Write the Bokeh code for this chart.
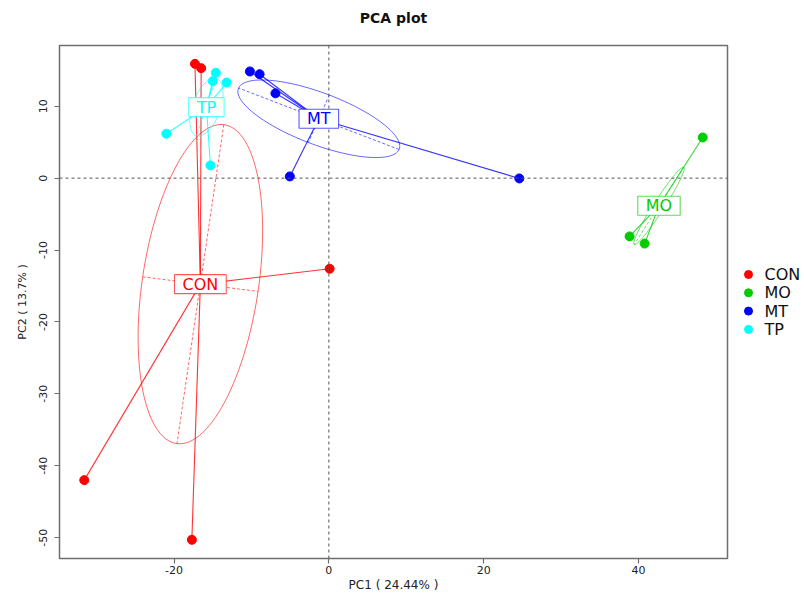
import numpy as np
from bokeh.plotting import figure
from bokeh.layouts import row
from bokeh.models import Range1d, FixedTicker, Span, Label, Title
from bokeh.core.properties import value
from bokeh.embed import file_html
from bokeh.resources import INLINE

# ---------------- data ----------------
groups = ["CON", "MO", "MT", "TP"]
colors = ["#FF0000", "#00CD00", "#0000FF", "#00FFFF"]

con_x = [-17.3, -16.5, 0.1, -31.6, -17.7]
con_y = [15.9, 15.3, -12.6, -42.0, -50.3]
mo_x = [48.3, 38.85, 40.8]
mo_y = [5.66, -8.1, -9.1]
mt_x = [-10.2, -8.95, -6.9, -5.04, 24.6]
mt_y = [14.84, 14.46, 11.8, 0.24, -0.04]
tp_x = [-21.0, -14.6, -15.0, -13.2, -15.3]
tp_y = [6.18, 14.66, 13.5, 13.3, 1.77]

x_ticks = [-20, 0, 20, 40]
y_ticks = [10, 0, -10, -20, -30, -40, -50]
x_label = "PC1 ( 24.44% )"
y_label = "PC2 ( 13.7% )"
title = "PCA plot"

group_x = [con_x, mo_x, mt_x, tp_x]
group_y = [con_y, mo_y, mt_y, tp_y]

ELL_COEFF = 0.8
FONT = "DejaVu Sans"
W_MAIN, W_LEG, H = 729, 75, 594
B_TOP, B_BOTTOM = 45, 36


def ellipse(px, py, coeff):
    px = np.asarray(px, float)
    py = np.asarray(py, float)
    mx, my = px.mean(), py.mean()
    vx = ((px - mx) ** 2).mean()
    vy = ((py - my) ** 2).mean()
    cxy = ((px - mx) * (py - my)).mean()
    delta = np.sqrt((vx - vy) ** 2 + 4 * cxy * cxy)
    l1 = max((vx + vy + delta) / 2, 0)
    l2 = max(vx + vy - l1, 0)
    l1, l2 = np.sqrt(l1), np.sqrt(l2)
    if abs(cxy) < 1e-10:
        a0, b0 = (1.0, 0.0) if vx > vy else (0.0, 1.0)
    else:
        a0 = 1.0
        b0 = (l1 * l1 - vx) / cxy
        n = np.hypot(a0, b0)
        a0, b0 = a0 / n, b0 / n
    c11 = coeff * a0 * l1
    c12 = -coeff * b0 * l2
    c21 = coeff * b0 * l1
    c22 = coeff * a0 * l2
    t = np.linspace(0, 2 * np.pi, 121)
    ex = mx + c11 * np.cos(t) + c12 * np.sin(t)
    ey = my + c21 * np.cos(t) + c22 * np.sin(t)
    seg = dict(x0=[mx + c11, mx + c12], y0=[my + c21, my + c22],
               x1=[mx - c11, mx - c12], y1=[my - c21, my - c22])
    return mx, my, ex, ey, seg


p = figure(width=W_MAIN, height=H, output_backend="svg", toolbar_location=None,
           x_range=Range1d(-34.8, 51.5), y_range=Range1d(-52.9, 18.45),
           min_border_left=59, min_border_right=2, min_border_top=B_TOP,
           min_border_bottom=B_BOTTOM)

# spacer title (closest to the frame), then the real title above it
p.add_layout(Title(text=" ", text_font_size="2px", standoff=16), "above")
p.add_layout(Title(text=title, align="center", text_font=FONT, text_font_size="14px",
                   text_font_style="bold", text_color="#111111", standoff=0), "above")

p.grid.visible = False
p.outline_line_color = "#6e6e6e"
p.outline_line_width = 1.5
p.background_fill_color = "white"
p.border_fill_color = "white"

for ax in (p.xaxis[0], p.yaxis[0]):
    ax.axis_line_color = None
    ax.major_tick_line_color = "#6e6e6e"
    ax.major_tick_line_width = 1.2
    ax.major_tick_in = 0
    ax.major_tick_out = 5
    ax.minor_tick_line_color = None
    ax.major_label_text_font = FONT
    ax.major_label_text_font_size = "11px"
    ax.major_label_text_color = "#222222"
    ax.axis_label_text_font = FONT
    ax.axis_label_text_font_style = "normal"
    ax.axis_label_text_color = "#222222"

p.xaxis.ticker = FixedTicker(ticks=x_ticks)
p.xaxis.major_label_overrides = {t: str(t) for t in x_ticks}
p.xaxis.major_label_standoff = 2
p.xaxis.axis_label = x_label
p.xaxis.axis_label_text_font_size = "12px"
p.xaxis.axis_label_standoff = 1

p.yaxis.ticker = FixedTicker(ticks=y_ticks)
p.yaxis.major_label_overrides = {t: str(t) for t in y_ticks}
p.yaxis.major_label_orientation = "vertical"
p.yaxis.major_label_standoff = 7
p.yaxis.axis_label = y_label
p.yaxis.axis_label_text_font_size = "11px"
p.yaxis.axis_label_standoff = 8

p.add_layout(Span(location=0, dimension="height", line_color="#555555",
                  line_dash="3 3", line_width=1))
p.add_layout(Span(location=0, dimension="width", line_color="#555555",
                  line_dash="3 3", line_width=1))

labels = []
for g, col, gx, gy in zip(groups, colors, group_x, group_y):
    mx, my, ex, ey, seg = ellipse(gx, gy, ELL_COEFF)
    p.line(ex, ey, line_color=col, line_alpha=0.6, line_width=1.0)
    p.segment(x0=seg["x0"], y0=seg["y0"], x1=seg["x1"], y1=seg["y1"],
              line_color=col, line_alpha=0.6, line_width=1.0, line_dash="3 2")
    p.segment(x0=[mx] * len(gx), y0=[my] * len(gy), x1=gx, y1=gy,
              line_color=col, line_alpha=0.8, line_width=1.1)
    p.scatter(gx, gy, size=9, fill_color=col, line_color=col)
    labels.append((g, col, mx, my))

for g, col, mx, my in labels:
    p.add_layout(Label(x=mx, y=my, text=g, text_color=col, text_font=FONT,
                       text_font_size="16px", text_align="center", text_baseline="middle",
                       background_fill_color="white", border_line_color=col,
                       border_line_alpha=0.65, border_line_width=1.1, padding=(8, 0)))

# ---- legend panel: y measured in pixels from the top of the page (negated) ----
leg = figure(width=W_LEG, height=H, output_backend="svg", toolbar_location=None,
             x_range=Range1d(0, W_LEG), y_range=Range1d(-(H - B_BOTTOM), -B_TOP),
             min_border_left=0, min_border_right=0, min_border_top=B_TOP,
             min_border_bottom=B_BOTTOM, outline_line_color=None)
leg.axis.visible = False
leg.grid.visible = False
leg.background_fill_color = "white"
leg.border_fill_color = "white"
leg_first = 274
leg_step = 18.3
leg_y = [-(leg_first + i * leg_step) for i in range(len(groups))]
leg.scatter([19] * len(groups), leg_y, size=8, fill_color=colors, line_color=colors)
leg.text([35] * len(groups), leg_y, text=groups, text_font=value(FONT),
         text_font_size="16px", text_baseline="middle", text_color="#111111")

layout = row(p, leg, spacing=0)
open("out.html", "w").write(file_html(layout, INLINE))
